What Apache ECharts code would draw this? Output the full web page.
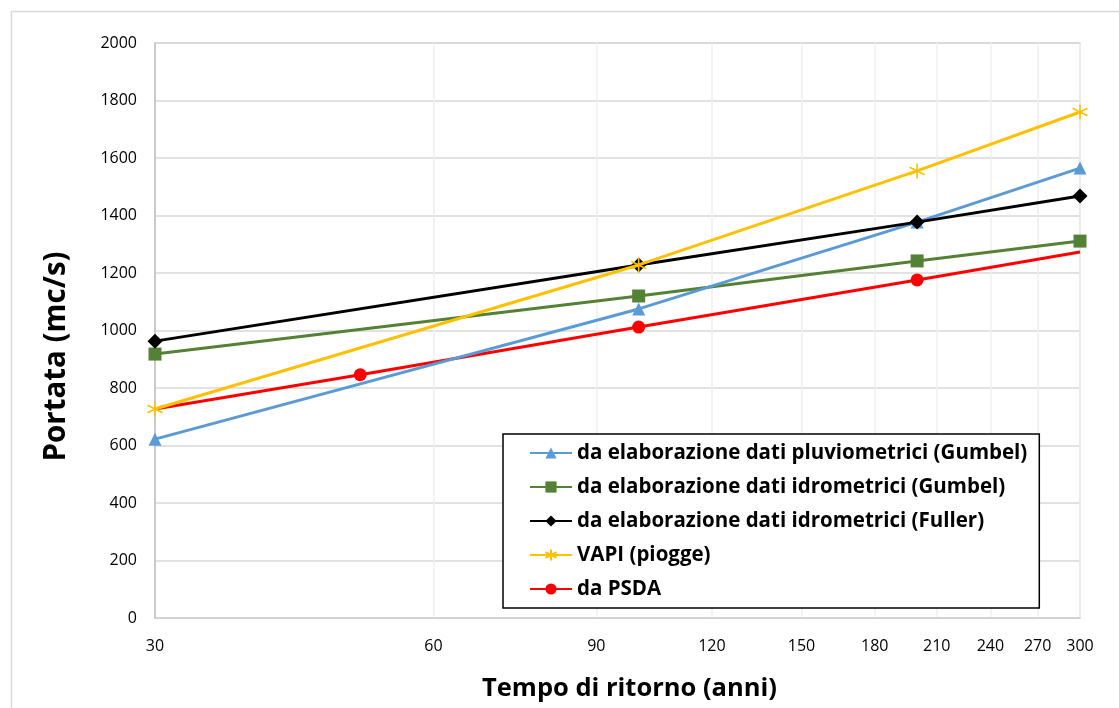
<!DOCTYPE html>
<html><head><meta charset="utf-8">
<script src="https://cdn.jsdelivr.net/npm/echarts@6/dist/echarts.min.js"></script>
<style>html,body{margin:0;padding:0;background:#fff}#c{width:1119px;height:708px}</style>
</head><body><div id="c"></div>
<script>
const xTicks = [30, 60, 90, 120, 150, 180, 210, 240, 270, 300];
const yMin = 0, yMax = 2000, yStep = 200;
const seriesNames = [
  'da elaborazione dati pluviometrici (Gumbel)',
  'da elaborazione dati idrometrici (Gumbel)',
  'da elaborazione dati idrometrici (Fuller)',
  'VAPI (piogge)',
  'da PSDA'
];
const tPluvioGumbel = [30, 100, 200, 300];
const qPluvioGumbel = [622, 1075, 1377, 1565];
const tIdroGumbel = [30, 100, 200, 300];
const qIdroGumbel = [918, 1120, 1242, 1311];
const tIdroFuller = [30, 100, 200, 300];
const qIdroFuller = [963, 1228, 1377, 1468];
const tVapi = [30, 100, 200, 300];
const qVapi = [727, 1228, 1555, 1760];
const tPsda = [30, 50, 100, 200, 300];
const qPsda = [727, 846, 1012, 1176, 1273];
const psdaMarked = [false, true, true, true, false];

const FONT = 'Open Sans';
const asterisk = 'path://M0,-10L0,10M-8.66,-5L8.66,5M-8.66,5L8.66,-5';

function pairs(t, q) { return t.map((v, i) => [v, q[i]]); }

const chart = echarts.init(document.getElementById('c'), null, {renderer: 'canvas'});
chart.setOption({
  animation: false,
  backgroundColor: '#fff',
  textStyle: {fontFamily: FONT},
  graphic: [{
    type: 'rect', left: 9, top: 9, silent: true, z: -10,
    shape: {width: 1130, height: 720},
    style: {fill: 'none', stroke: '#d9d9d9', lineWidth: 1.5}
  }],
  grid: {left: 155, right: 39, top: 43, bottom: 90, show: true, borderColor: '#d0d0d0', borderWidth: 1.5},
  legend: {
    orient: 'vertical', left: 503, top: 434,
    padding: [7, 12, 7, 26],
    borderColor: '#000', borderWidth: 1.5, backgroundColor: '#fff',
    itemWidth: 42, itemHeight: 14, itemGap: 10,
    textStyle: {fontFamily: FONT, fontWeight: 'bold', fontSize: 20.5, lineHeight: 24, color: '#000'},
    data: seriesNames
  },
  xAxis: {
    type: 'log', logBase: 10, min: 30, max: 300,
    name: 'Tempo di ritorno (anni)', nameLocation: 'middle', nameGap: 58,
    nameTextStyle: {fontFamily: FONT, fontWeight: 'bold', fontSize: 25.5, color: '#000', padding: [0, 0, 0, 24]},
    axisLine: {show: true, lineStyle: {color: '#d0d0d0', width: 1.5}},
    axisTick: {show: false, customValues: xTicks},
    axisLabel: {customValues: xTicks, margin: 20, fontSize: 16, color: '#000', fontFamily: FONT, showMinLabel: true, showMaxLabel: true},
    splitLine: {show: true, lineStyle: {color: '#efefef', width: 1.5}}
  },
  yAxis: {
    type: 'value', min: yMin, max: yMax, interval: yStep,
    name: 'Portata (mc/s)', nameLocation: 'middle', nameGap: 83,
    nameTextStyle: {fontFamily: FONT, fontWeight: 'bold', fontSize: 29.5, color: '#000', padding: [0, 52, 0, 0]},
    axisLine: {show: true, lineStyle: {color: '#bfbfbf', width: 1.5}},
    axisTick: {show: false},
    axisLabel: {margin: 18, fontSize: 16, color: '#000', fontFamily: FONT, formatter: v => String(v)},
    splitLine: {show: true, lineStyle: {color: '#d9d9d9', width: 1.5}}
  },
  series: [
    {name: seriesNames[0], type: 'line', data: pairs(tPluvioGumbel, qPluvioGumbel),
     symbol: 'triangle', symbolSize: 13, lineStyle: {color: '#5B9BD5', width: 3},
     itemStyle: {color: '#5B9BD5'}, z: 3},
    {name: seriesNames[1], type: 'line', data: pairs(tIdroGumbel, qIdroGumbel),
     symbol: 'rect', symbolSize: 13, lineStyle: {color: '#548235', width: 3},
     itemStyle: {color: '#548235'}, z: 2},
    {name: seriesNames[2], type: 'line', data: pairs(tIdroFuller, qIdroFuller),
     symbol: 'diamond', symbolSize: 15, lineStyle: {color: '#000', width: 3},
     itemStyle: {color: '#000'}, z: 4},
    {name: seriesNames[3], type: 'line', data: pairs(tVapi, qVapi),
     symbol: asterisk, symbolSize: 15, lineStyle: {color: '#FFC000', width: 3},
     itemStyle: {color: '#FFC000', borderColor: '#FFC000', borderWidth: 1.6}, z: 5},
    {name: seriesNames[4], type: 'line',
     data: tPsda.map((t, i) => ({value: [t, qPsda[i]], symbol: psdaMarked[i] ? 'circle' : 'none'})),
     symbol: 'circle', symbolSize: 13, lineStyle: {color: '#FF0000', width: 3},
     itemStyle: {color: '#FF0000'}, z: 1}
  ]
});
</script>
</body></html>
